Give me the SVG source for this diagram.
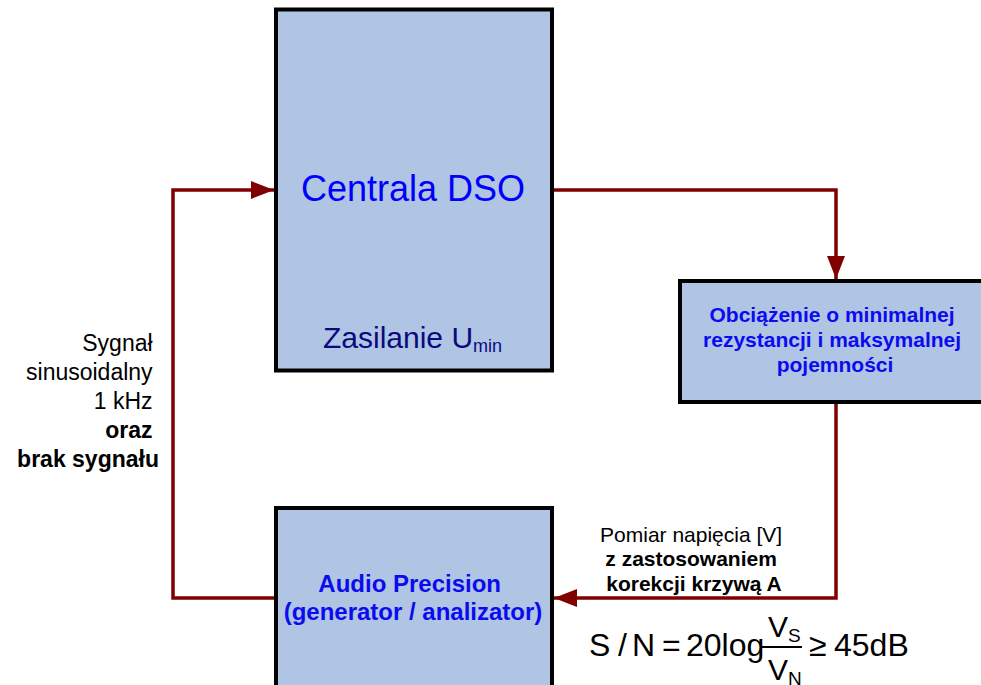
<svg xmlns="http://www.w3.org/2000/svg" width="981" height="685" viewBox="0 0 981 685">
<defs>
<style>
.box{fill:#B0C4E3;stroke:#000;stroke-width:4}
.conn{fill:none;stroke:#800000;stroke-width:3.5}
text{font-family:"Liberation Sans",Arial,sans-serif}
.blue{fill:#0000FF}
.bb{fill:#0B0BEF;font-weight:bold}
.blk{fill:#000}
.b{font-weight:bold}
.f{font-size:32px;fill:#000}
</style>
<marker id="ah" markerUnits="userSpaceOnUse" markerWidth="24" markerHeight="20" refX="23" refY="9" orient="auto">
<path d="M0,0 L23,9 L0,18 z" fill="#800000"/>
</marker>
</defs>
<rect width="981" height="685" fill="#fff"/>
<g id="connectors">
<path class="conn" d="M552,190 H836 V279" marker-end="url(#ah)"/>
<path class="conn" d="M836,402 V598 H554" marker-end="url(#ah)"/>
<path class="conn" d="M276,598 H173 V190 H274" marker-end="url(#ah)"/>
</g>
<g id="centrala">
<rect class="box" x="276" y="9.5" width="276" height="361"/>
<text class="blue" x="413" y="201" font-size="36" text-anchor="middle">Centrala DSO</text>
<text x="323" y="348" font-size="30" fill="#0A0A80">Zasilanie U<tspan font-size="18" dy="4">min</tspan></text>
</g>
<g id="obciazenie">
<rect class="box" x="680" y="281" width="320" height="121"/>
<text class="bb" font-size="21" text-anchor="middle">
<tspan x="835" y="322">Obciążenie o minimalnej</tspan>
<tspan x="835" y="347">rezystancji i maksymalnej</tspan>
<tspan x="835" y="372">pojemności</tspan>
</text>
</g>
<g id="audio">
<rect class="box" x="276" y="508" width="276" height="200"/>
<text class="bb" font-size="24" text-anchor="middle">
<tspan x="413" y="592">Audio Precision</tspan>
<tspan x="413" y="620">(generator / analizator)</tspan>
</text>
</g>
<g id="label-left">
<text class="blk" font-size="23" text-anchor="end">
<tspan x="159" y="351">Sygnał</tspan>
<tspan x="159" y="380">sinusoidalny</tspan>
<tspan x="159" y="409">1 kHz</tspan>
<tspan x="159" y="438" class="b">oraz</tspan>
<tspan x="159" y="467" class="b">brak sygnału</tspan>
</text>
</g>
<g id="label-right">
<text class="blk" font-size="21" text-anchor="middle">
<tspan x="694" y="542">Pomiar napięcia [V]</tspan>
<tspan x="694" y="566" class="b">z zastosowaniem</tspan>
<tspan x="694" y="591" class="b">korekcji krzywą A</tspan>
</text>
</g>
<g id="formula">
<text class="f" x="589" y="656">S</text>
<text class="f" x="618" y="656">/</text>
<text class="f" x="632" y="656">N</text>
<text class="f" x="662" y="656">=</text>
<text class="f" x="686" y="656" font-size="31">20log</text>
<line x1="760" y1="647" x2="802" y2="647" stroke="#000" stroke-width="2"/>
<text x="768" y="637" font-size="30" fill="#000">V<tspan font-size="19" dy="5">S</tspan></text>
<text x="768" y="680" font-size="30" fill="#000">V<tspan font-size="19" dy="5">N</tspan></text>
<text class="f" x="809" y="656">≥</text>
<text class="f" x="834" y="656" font-size="33">45dB</text>
</g>
</svg>
